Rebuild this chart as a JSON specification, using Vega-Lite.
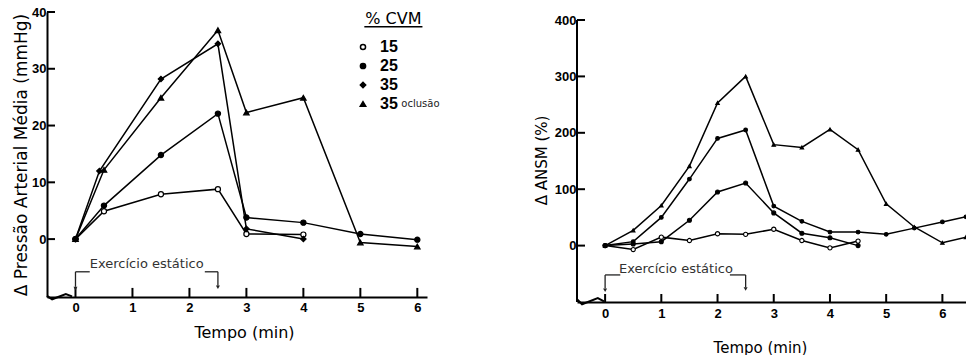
{
  "$schema": "https://vega.github.io/schema/vega-lite/v6.json",
  "background": "white",
  "padding": {"left": 12, "top": 6, "right": 0, "bottom": 0},
  "spacing": 94,
  "config": {
    "view": {"stroke": null},
    "font": "DejaVu Sans",
    "axis": {
      "domainColor": "black", "domainWidth": 2, "ticks": false,
      "labelFont": "Liberation Sans", "labelFontWeight": "bold", "labelFontSize": 13, "labelColor": "black",
      "titleFont": "DejaVu Sans", "titleFontWeight": "normal", "titleColor": "black", "grid": false
    },
    "legend": {
      "orient": "none", "legendX": 308, "legendY": 27,
      "labelFont": "Liberation Sans", "labelFontWeight": "bold", "labelFontSize": 16, "labelColor": "black",
      "labelOffset": 9, "rowPadding": 3
    }
  },
  "datasets": {
    "pam": [
      {"series": "15", "t": 0, "v": 0}, {"series": "15", "t": 0.5, "v": 4.9}, {"series": "15", "t": 1.5, "v": 7.9},
      {"series": "15", "t": 2.5, "v": 8.8}, {"series": "15", "t": 3, "v": 0.9}, {"series": "15", "t": 4, "v": 0.8},
      {"series": "25", "t": 0, "v": 0}, {"series": "25", "t": 0.5, "v": 5.9}, {"series": "25", "t": 1.5, "v": 14.8},
      {"series": "25", "t": 2.5, "v": 22.1}, {"series": "25", "t": 3, "v": 3.8}, {"series": "25", "t": 4, "v": 2.9},
      {"series": "25", "t": 5, "v": 0.9}, {"series": "25", "t": 6, "v": -0.1},
      {"series": "35", "t": 0, "v": 0}, {"series": "35", "t": 0.42, "v": 12}, {"series": "35", "t": 1.5, "v": 28.2},
      {"series": "35", "t": 2.5, "v": 34.4}, {"series": "35", "t": 3, "v": 1.8}, {"series": "35", "t": 4, "v": 0},
      {"series": "35o", "t": 0, "v": 0}, {"series": "35o", "t": 0.5, "v": 12.2}, {"series": "35o", "t": 1.5, "v": 24.9},
      {"series": "35o", "t": 2.5, "v": 36.8}, {"series": "35o", "t": 3, "v": 22.3}, {"series": "35o", "t": 4, "v": 24.9},
      {"series": "35o", "t": 5, "v": -0.6}, {"series": "35o", "t": 6, "v": -1.3}
    ],
    "ansm": [
      {"series": "15", "t": 0, "v": 0}, {"series": "15", "t": 0.5, "v": -7}, {"series": "15", "t": 1, "v": 15},
      {"series": "15", "t": 1.5, "v": 9}, {"series": "15", "t": 2, "v": 21}, {"series": "15", "t": 2.5, "v": 20},
      {"series": "15", "t": 3, "v": 29}, {"series": "15", "t": 3.5, "v": 9}, {"series": "15", "t": 4, "v": -4},
      {"series": "15", "t": 4.5, "v": 8},
      {"series": "25", "t": 0, "v": 0}, {"series": "25", "t": 0.5, "v": 3}, {"series": "25", "t": 1, "v": 7},
      {"series": "25", "t": 1.5, "v": 45}, {"series": "25", "t": 2, "v": 95}, {"series": "25", "t": 2.5, "v": 111},
      {"series": "25", "t": 3, "v": 58}, {"series": "25", "t": 3.5, "v": 22}, {"series": "25", "t": 4, "v": 14},
      {"series": "25", "t": 4.5, "v": 0},
      {"series": "35", "t": 0, "v": 0}, {"series": "35", "t": 0.5, "v": 7}, {"series": "35", "t": 1, "v": 50},
      {"series": "35", "t": 1.5, "v": 118}, {"series": "35", "t": 2, "v": 190}, {"series": "35", "t": 2.5, "v": 205},
      {"series": "35", "t": 3, "v": 70}, {"series": "35", "t": 3.5, "v": 43}, {"series": "35", "t": 4, "v": 24},
      {"series": "35", "t": 4.5, "v": 24}, {"series": "35", "t": 5, "v": 20}, {"series": "35", "t": 5.5, "v": 31},
      {"series": "35", "t": 6, "v": 42}, {"series": "35", "t": 6.42, "v": 51},
      {"series": "35o", "t": 0, "v": 0}, {"series": "35o", "t": 0.5, "v": 27}, {"series": "35o", "t": 1, "v": 71},
      {"series": "35o", "t": 1.5, "v": 141}, {"series": "35o", "t": 2, "v": 253}, {"series": "35o", "t": 2.5, "v": 300},
      {"series": "35o", "t": 3, "v": 179}, {"series": "35o", "t": 3.5, "v": 174}, {"series": "35o", "t": 4, "v": 206},
      {"series": "35o", "t": 4.5, "v": 170}, {"series": "35o", "t": 5, "v": 74}, {"series": "35o", "t": 5.5, "v": 33},
      {"series": "35o", "t": 6, "v": 5}, {"series": "35o", "t": 6.42, "v": 15}
    ],
    "brPam": [
      {"t": 0, "v": -5.76, "t2": 0.25, "v2": -5.76}, {"t": 2.27, "v": -5.76, "t2": 2.5, "v2": -5.76},
      {"t": 0, "v": -5.76, "t2": 0, "v2": -8.4}, {"t": 2.5, "v": -5.76, "t2": 2.5, "v2": -8.2}
    ],
    "arPam": [{"t": 0, "v": -8.7}, {"t": 2.5, "v": -8.5}],
    "txPam": [{"t": 1.25, "v": -4.4, "label": "Exercício estático"}],
    "zzPam": [{"t": -0.5, "v": -10.0}, {"t": -0.41, "v": -10.6}, {"t": -0.17, "v": -9.7}, {"t": -0.06, "v": -10.1}],
    "ytPam": [{"t": -0.5, "v": 0}, {"t": -0.5, "v": 10}, {"t": -0.5, "v": 20}, {"t": -0.5, "v": 30}, {"t": -0.5, "v": 40}],
    "xtPam": [
      {"t": 0, "v": -10.2, "t2": 0, "v2": -8.6}, {"t": 1, "v": -10.2, "t2": 1, "v2": -8.6},
      {"t": 2, "v": -10.2, "t2": 2, "v2": -8.6}, {"t": 3, "v": -10.2, "t2": 3, "v2": -8.6},
      {"t": 4, "v": -10.2, "t2": 4, "v2": -8.6}, {"t": 5, "v": -10.2, "t2": 5, "v2": -8.6},
      {"t": 6, "v": -10.2, "t2": 6, "v2": -8.6}
    ],
    "legTitle": [{"t": 5.58, "v": 38.75, "label": "% CVM"}],
    "legSub": [{"t": 5.72, "v": 23.8, "label": "oclusão"}],
    "legLine": [{"t": 5.07, "v": 37.4, "t2": 6.09, "v2": 37.4}],
    "brAnsm": [
      {"t": 0, "v": -52, "t2": 0.27, "v2": -52}, {"t": 2.22, "v": -52, "t2": 2.5, "v2": -52},
      {"t": 0, "v": -52, "t2": 0, "v2": -76}, {"t": 2.5, "v": -52, "t2": 2.5, "v2": -74}
    ],
    "arAnsm": [{"t": 0, "v": -79}, {"t": 2.5, "v": -77}],
    "txAnsm": [{"t": 1.26, "v": -41, "label": "Exercício estático"}],
    "zzAnsm": [{"t": -0.5, "v": -95}, {"t": -0.41, "v": -104}, {"t": -0.13, "v": -93}, {"t": -0.02, "v": -99}],
    "ytAnsm": [{"t": -0.5, "v": 0}, {"t": -0.5, "v": 100}, {"t": -0.5, "v": 200}, {"t": -0.5, "v": 300}, {"t": -0.5, "v": 400}],
    "xtAnsm": [
      {"t": -0.5, "v": -100, "t2": -0.5, "v2": 400},
      {"t": 0, "v": -100, "t2": 0, "v2": -85.8}, {"t": 1, "v": -100, "t2": 1, "v2": -85.8},
      {"t": 2, "v": -100, "t2": 2, "v2": -85.8}, {"t": 3, "v": -100, "t2": 3, "v2": -85.8},
      {"t": 4, "v": -100, "t2": 4, "v2": -85.8}, {"t": 5, "v": -100, "t2": 5, "v2": -85.8},
      {"t": 6, "v": -100, "t2": 6, "v2": -85.8}
    ]
  },
  "resolve": {
    "scale": {"x": "independent", "y": "independent", "size": "independent", "shape": "independent", "fill": "independent"},
    "legend": {"size": "independent", "shape": "independent", "fill": "independent"}
  },
  "hconcat": [
    {
      "width": 380, "height": 285,
      "encoding": {
        "x": {"field": "t", "type": "quantitative",
          "scale": {"domain": [-0.5, 6.17], "nice": false, "zero": false},
          "axis": {"title": "Tempo (min)", "values": [0, 1, 2, 3, 4, 5, 6], "labelPadding": 4,
            "titlePadding": 10, "titleX": 197, "titleFontSize": 16}},
        "y": {"field": "v", "type": "quantitative",
          "scale": {"domain": [-10.2, 40], "nice": false, "zero": false},
          "axis": {"title": "Δ Pressão Arterial Média (mmHg)", "values": [0, 10, 20, 30, 40],
            "labelPadding": 1, "titlePadding": 1, "titleFontSize": 17}}
      },
      "layer": [
        {"data": {"name": "ytPam"}, "mark": {"type": "tick", "orient": "horizontal", "size": 8, "thickness": 2, "xOffset": 4, "color": "black", "opacity": 1},
          "encoding": {}},
        {"data": {"name": "xtPam"}, "mark": {"type": "rule", "color": "black", "strokeWidth": 2},
          "encoding": {"x2": {"field": "t2"}, "y2": {"field": "v2"}}},
        {"data": {"name": "brPam"}, "mark": {"type": "rule", "color": "#222", "strokeWidth": 1.3},
          "encoding": {"x2": {"field": "t2"}, "y2": {"field": "v2"}}},
        {"data": {"name": "arPam"}, "mark": {"type": "point", "shape": "triangle-down", "filled": true, "color": "#222", "size": 16, "opacity": 1},
          "encoding": {}},
        {"data": {"name": "txPam"}, "mark": {"type": "text", "font": "DejaVu Sans", "fontSize": 13, "color": "#333"},
          "encoding": {"text": {"field": "label"}}},
        {"data": {"name": "zzPam"}, "mark": {"type": "line", "color": "black", "strokeWidth": 2}, "encoding": {}},
        {"data": {"name": "pam"}, "mark": {"type": "line", "color": "black", "strokeWidth": 1.5},
          "encoding": {"detail": {"field": "series"}}},
        {"data": {"name": "pam"}, "mark": {"type": "point", "filled": true, "stroke": "black", "strokeWidth": 1.2, "opacity": 1},
          "encoding": {
            "shape": {"field": "series", "type": "nominal", "title": null,
              "scale": {"domain": ["15", "25", "35", "35o"], "range": ["circle", "circle", "diamond", "triangle-up"]},
              "legend": {"title": null, "labelExpr": "datum.value == '35o' ? '35' : datum.label",
                "encode": {"symbols": {"update": {"stroke": {"value": "black"}, "strokeWidth": {"value": 1.2}}}}}},
            "fill": {"field": "series", "type": "nominal", "title": null,
              "scale": {"domain": ["15", "25", "35", "35o"], "range": ["white", "black", "black", "black"]},
              "legend": {"title": null, "labelExpr": "datum.value == '35o' ? '35' : datum.label",
                "encode": {"symbols": {"update": {"stroke": {"value": "black"}, "strokeWidth": {"value": 1.2}}}}}},
            "size": {"field": "series", "type": "nominal", "title": null,
              "scale": {"domain": ["15", "25", "35", "35o"], "range": [26, 30, 40, 60]},
              "legend": {"title": null, "labelExpr": "datum.value == '35o' ? '35' : datum.label",
                "encode": {"symbols": {"update": {"stroke": {"value": "black"}, "strokeWidth": {"value": 1.2}}}}}}
          }},
        {"data": {"name": "legTitle"}, "mark": {"type": "text", "font": "DejaVu Sans", "fontSize": 16, "color": "black"},
          "encoding": {"text": {"field": "label"}}},
        {"data": {"name": "legSub"}, "mark": {"type": "text", "font": "DejaVu Sans", "fontSize": 10, "align": "left", "color": "#222"},
          "encoding": {"text": {"field": "label"}}},
        {"data": {"name": "legLine"}, "mark": {"type": "rule", "color": "black", "strokeWidth": 1.5},
          "encoding": {"x2": {"field": "t2"}, "y2": {"field": "v2"}}}
      ]
    },
    {
      "width": 389, "height": 290,
      "encoding": {
        "x": {"field": "t", "type": "quantitative",
          "scale": {"domain": [-0.5, 6.42], "nice": false, "zero": false},
          "axis": {"title": "Tempo (min)", "values": [0, 1, 2, 3, 4, 5, 6], "labelPadding": 5,
            "titlePadding": 20, "titleX": 183, "titleFontSize": 15}},
        "y": {"field": "v", "type": "quantitative",
          "scale": {"domain": [-100, 414.2], "nice": false, "zero": false},
          "axis": {"title": "Δ ANSM (%)", "values": [0, 100, 200, 300, 400], "domain": false,
            "labelPadding": 1, "titlePadding": 5, "titleFontSize": 15, "titleY": 148}}
      },
      "layer": [
        {"data": {"name": "xtAnsm"}, "mark": {"type": "rule", "color": "black", "strokeWidth": 2},
          "encoding": {"x2": {"field": "t2"}, "y2": {"field": "v2"}}},
        {"data": {"name": "ytAnsm"}, "mark": {"type": "tick", "orient": "horizontal", "size": 8, "thickness": 2, "xOffset": 4, "color": "black", "opacity": 1},
          "encoding": {}},
        {"data": {"name": "brAnsm"}, "mark": {"type": "rule", "color": "#222", "strokeWidth": 1.3},
          "encoding": {"x2": {"field": "t2"}, "y2": {"field": "v2"}}},
        {"data": {"name": "arAnsm"}, "mark": {"type": "point", "shape": "triangle-down", "filled": true, "color": "#222", "size": 16, "opacity": 1},
          "encoding": {}},
        {"data": {"name": "txAnsm"}, "mark": {"type": "text", "font": "DejaVu Sans", "fontSize": 13, "color": "#333"},
          "encoding": {"text": {"field": "label"}}},
        {"data": {"name": "zzAnsm"}, "mark": {"type": "line", "color": "black", "strokeWidth": 2}, "encoding": {}},
        {"data": {"name": "ansm"}, "mark": {"type": "line", "color": "black", "strokeWidth": 1.5},
          "encoding": {"detail": {"field": "series"}}},
        {"data": {"name": "ansm"}, "mark": {"type": "point", "filled": true, "stroke": "black", "strokeWidth": 1.1, "opacity": 1},
          "encoding": {
            "shape": {"field": "series", "type": "nominal", "legend": null,
              "scale": {"domain": ["15", "25", "35", "35o"], "range": ["circle", "circle", "circle", "triangle-up"]}},
            "fill": {"field": "series", "type": "nominal", "legend": null,
              "scale": {"domain": ["15", "25", "35", "35o"], "range": ["white", "black", "black", "black"]}},
            "size": {"field": "series", "type": "nominal", "legend": null,
              "scale": {"domain": ["15", "25", "35", "35o"], "range": [18, 12, 20, 14]}}
          }}
      ]
    }
  ]
}
